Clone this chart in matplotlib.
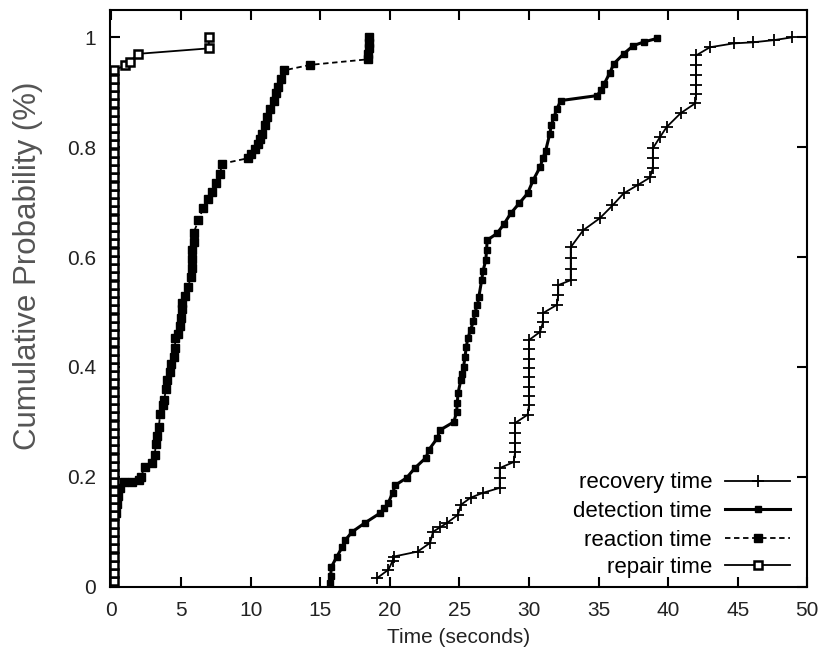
import matplotlib
matplotlib.use("Agg")
import matplotlib.pyplot as plt
from matplotlib.legend import Legend

plt.rcParams['font.family'] = ['Liberation Sans', 'DejaVu Sans']

# ---------------- data ----------------
recovery_x = [19.1, 19.9, 20.2, 20.3, 22.0, 22.9, 23.1, 23.6, 24.1, 24.9, 25.1, 25.8, 26.7,
              27.9, 27.9, 27.9, 28.9, 29.0, 29.0, 29.0, 29.0, 29.9, 30.0, 30.0, 30.0, 30.0,
              30.0, 30.0, 30.0, 30.0, 30.8, 31.0, 31.0, 32.0, 32.1, 32.1, 33.0, 33.0, 33.0,
              33.0, 33.9, 35.1, 36.0, 36.8, 37.8, 38.7, 38.9, 38.9, 38.9, 39.4, 39.9, 40.9,
              41.95, 42.0, 42.0, 42.0, 42.0, 42.0, 43.0, 44.7, 46.1, 47.6, 48.9]
recovery_y = [0.016, 0.031, 0.047, 0.055, 0.064, 0.08, 0.1, 0.108, 0.116, 0.131, 0.149, 0.162, 0.171,
              0.18, 0.198, 0.216, 0.227, 0.245, 0.262, 0.28, 0.298, 0.313, 0.33, 0.347, 0.364, 0.381,
              0.398, 0.415, 0.432, 0.449, 0.464, 0.481, 0.498, 0.513, 0.531, 0.549, 0.558, 0.578, 0.598,
              0.618, 0.649, 0.671, 0.694, 0.716, 0.731, 0.745, 0.762, 0.78, 0.798, 0.818, 0.837, 0.862,
              0.88, 0.897, 0.914, 0.931, 0.949, 0.967, 0.982, 0.989, 0.991, 0.995, 1.0]

detection_x = [15.7, 15.75, 15.8, 16.2, 16.6, 16.8, 17.3, 18.2, 19.3, 19.6, 19.9, 20.2, 20.4, 21.2,
               21.8, 22.6, 22.8, 23.4, 23.6, 24.6, 24.8, 24.85, 24.9, 25.1, 25.2, 25.3, 25.4, 25.5,
               25.6, 25.8, 26.0, 26.1, 26.3, 26.4, 26.6, 26.7, 26.9, 26.95, 27.0, 27.7, 28.2, 28.7,
               29.3, 29.9, 30.3, 30.8, 31.0, 31.2, 31.5, 31.6, 31.8, 32.0, 32.3, 34.9, 35.2, 35.4,
               35.8, 36.1, 36.8, 37.5, 38.3, 39.2]
detection_y = [0.007, 0.02, 0.036, 0.055, 0.073, 0.085, 0.1, 0.116, 0.134, 0.143, 0.153, 0.171, 0.185, 0.198,
               0.216, 0.235, 0.249, 0.27, 0.285, 0.3, 0.318, 0.335, 0.352, 0.376, 0.388, 0.4, 0.418, 0.437,
               0.452, 0.467, 0.483, 0.498, 0.513, 0.528, 0.558, 0.575, 0.595, 0.613, 0.631, 0.643, 0.66, 0.68,
               0.698, 0.716, 0.74, 0.764, 0.78, 0.794, 0.825, 0.84, 0.855, 0.87, 0.885, 0.894, 0.905, 0.915,
               0.935, 0.952, 0.97, 0.985, 0.992, 0.998]

reaction_x = [0.0, 0.0, 0.0, 0.0, 0.0, 0.05, 0.05, 0.1, 0.15, 0.3, 0.4, 0.5, 0.6, 0.9, 1.5, 2.0, 2.1,
              2.4, 2.9, 3.1, 3.2, 3.3, 3.4, 3.5, 3.7, 3.8, 3.9, 4.0, 4.2, 4.3, 4.5, 4.55, 4.6, 4.8,
              4.9, 5.0, 5.05, 5.1, 5.3, 5.5, 5.7, 5.75, 5.8, 5.8, 5.9, 5.9, 6.25, 6.6, 6.9, 7.25,
              7.5, 7.8, 7.95, 9.8, 10.0, 10.3, 10.5, 10.7, 10.85, 11.0, 11.2, 11.4, 11.65, 11.8,
              12.0, 12.2, 12.4, 14.3, 18.4, 18.45, 18.5, 18.5, 18.5]
reaction_y = [0.005, 0.02, 0.035, 0.05, 0.065, 0.08, 0.095, 0.11, 0.125, 0.135, 0.15, 0.165, 0.18, 0.19,
              0.19, 0.195, 0.2, 0.218, 0.226, 0.24, 0.26, 0.275, 0.29, 0.315, 0.33, 0.34, 0.36, 0.376,
              0.39, 0.405, 0.418, 0.435, 0.452, 0.46, 0.475, 0.49, 0.505, 0.516, 0.53, 0.545, 0.564,
              0.58, 0.597, 0.613, 0.628, 0.644, 0.667, 0.69, 0.705, 0.718, 0.735, 0.752, 0.77, 0.78,
              0.788, 0.797, 0.806, 0.815, 0.824, 0.84, 0.855, 0.87, 0.885, 0.898, 0.91, 0.925, 0.94,
              0.95, 0.96, 0.97, 0.98, 0.99, 1.0]

repair_x = [0.15] * 63 + [1.0, 1.3, 1.9, 7.0, 7.0]
repair_y = [0.01, 0.025, 0.04, 0.055, 0.07, 0.085, 0.1, 0.115, 0.13, 0.145, 0.16, 0.175, 0.19,
            0.205, 0.22, 0.235, 0.25, 0.265, 0.28, 0.295, 0.31, 0.325, 0.34, 0.355, 0.37, 0.385,
            0.4, 0.415, 0.43, 0.445, 0.46, 0.475, 0.49, 0.505, 0.52, 0.535, 0.55, 0.565, 0.58,
            0.595, 0.61, 0.625, 0.64, 0.655, 0.67, 0.685, 0.7, 0.715, 0.73, 0.745, 0.76, 0.775,
            0.79, 0.805, 0.82, 0.835, 0.85, 0.865, 0.88, 0.895, 0.91, 0.925, 0.94,
            0.949, 0.955, 0.97, 0.98, 1.0]

labels = ["recovery time", "detection time", "reaction time", "repair time"]
xticks = [0, 5, 10, 15, 20, 25, 30, 35, 40, 45, 50]
yticks = [0, 0.2, 0.4, 0.6, 0.8, 1.0]
ytick_labels = ["0", "0.2", "0.4", "0.6", "0.8", "1"]

# ---------------- figure ----------------
fig = plt.figure(figsize=(8.34, 6.6), dpi=100)
ax = fig.add_axes([0.132, 0.111, 0.836, 0.874])

h_rec, = ax.plot(recovery_x, recovery_y, color='black', lw=1.3, marker='+', ms=9, mew=1.3,
                 label=labels[0])
h_det, = ax.plot(detection_x, detection_y, color='black', lw=2.2, marker='s', ms=4.5, mew=1,
                 label=labels[1])
h_rea, = ax.plot(reaction_x, reaction_y, color='black', lw=1.3, ls=(0, (3, 2)), marker='s',
                 ms=6, mew=1, label=labels[2])
h_rep, = ax.plot(repair_x, repair_y, color='black', lw=1.3, marker='s', ms=6, mew=1.8,
                 markerfacecolor='white', label=labels[3])

ax.set_xlim(-0.1, 50)
ax.set_ylim(0, 1.05)
ax.set_xticks(xticks)
ax.set_xticklabels([str(t) for t in xticks])
ax.set_yticks(yticks)
ax.set_yticklabels(ytick_labels)

ax.tick_params(direction='in', length=7, width=1.5, top=True, right=True,
               labelsize=15, pad=10, colors='black', labelcolor='#222222')
for sp in ax.spines.values():
    sp.set_linewidth(1.5)

ax.set_xlabel("Time (seconds)", fontsize=15, labelpad=6, color='#222222')
ax.set_ylabel("Cumulative Probability (%)", fontsize=22.5, color='#555555')
ax.yaxis.set_label_coords(-0.096, 0.556)

# gnuplot-style key: right-aligned text followed by the line sample
rows_y = [0.180, 0.130, 0.081, 0.033]
for h, lab, ry in zip([h_rec, h_det, h_rea, h_rep], labels, rows_y):
    lg = Legend(ax, [h], [lab], loc='center right', bbox_to_anchor=(0.975, ry),
                frameon=False, markerfirst=False, fontsize=16, handlelength=2.9,
                handletextpad=0.6, borderpad=0, borderaxespad=0, numpoints=1)
    ax.add_artist(lg)

fig.savefig("out.png", dpi=100)
